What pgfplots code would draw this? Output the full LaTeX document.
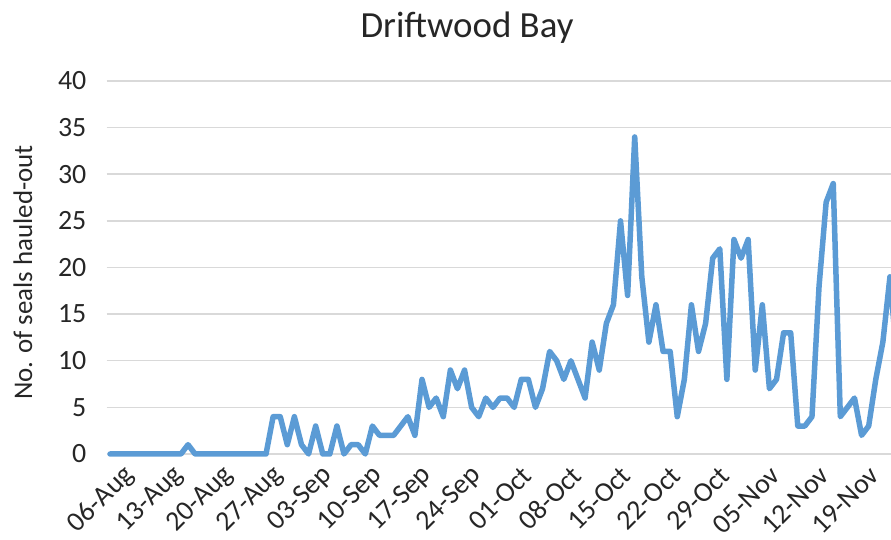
\documentclass[border=0pt]{standalone}
\usepackage{pgfplots}
\pgfplotsset{compat=1.18}
\usepackage{fontspec}
\setmainfont{Carlito}
\definecolor{seal}{RGB}{91,155,213}
\definecolor{gridc}{RGB}{217,217,217}
\begin{document}
\begin{tikzpicture}[x=1bp,y=1bp]
\begin{axis}[
  at={(106.5bp,86bp)}, anchor=south west,
  width=784.5bp, height=373bp, scale only axis,
  xmin=-0.5, xmax=110.15, ymin=0, ymax=40,
  clip=false,
  axis line style={draw=none},
  major tick length=0pt,
  ytick={0,5,...,40},
  yticklabel={\pgfmathprintnumber{\tick}\hspace*{20bp}},
  xtick={0,7,...,105},
  xticklabels={06-Aug,13-Aug,20-Aug,27-Aug,03-Sep,10-Sep,17-Sep,24-Sep,01-Oct,08-Oct,15-Oct,22-Oct,29-Oct,05-Nov,12-Nov,19-Nov},
  ymajorgrids, grid style={draw=gridc, line width=1.5bp},
  /pgf/number format/assume math mode=true,
  tick label style={font=\fontsize{28}{32}\selectfont, text=black!85},
  yticklabel style={anchor=east, inner sep=0pt},
  xticklabel style={rotate=45, anchor=east, inner sep=0pt, xshift=2bp, yshift=-26bp},
]
\addplot[seal, line width=5.5bp, line join=round, line cap=round] coordinates {
(0,0)(1,0)(2,0)(3,0)(4,0)(5,0)(6,0)(7,0)(8,0)(9,0)(10,0)(11,1)(12,0)(13,0)(14,0)(15,0)(16,0)(17,0)(18,0)(19,0)(20,0)(21,0)(22,0)
(23,4)(24,4)(25,1)(26,4)(27,1)(28,0)(29,3)(30,0)(31,0)(32,3)(33,0)(34,1)(35,1)(36,0)(37,3)(38,2)(39,2)(40,2)(41,3)(42,4)(43,2)
(44,8)(45,5)(46,6)(47,4)(48,9)(49,7)(50,9)(51,5)(52,4)(53,6)(54,5)(55,6)(56,6)(57,5)(58,8)(59,8)(60,5)(61,7)(62,11)(63,10)
(64,8)(65,10)(66,8)(67,6)(68,12)(69,9)(70,14)(71,16)(72,25)(73,17)(74,34)(75,19)(76,12)(77,16)(78,11)(79,11)(80,4)(81,8)
(82,16)(83,11)(84,14)(85,21)(86,22)(87,8)(88,23)(89,21)(90,23)(91,9)(92,16)(93,7)(94,8)(95,13)(96,13)(97,3)(98,3)(99,4)
(100,18)(101,27)(102,29)(103,4)(104,5)(105,6)(106,2)(107,3)(108,8)(109,12)(110,19)(111,10)
};
\end{axis}
\node[anchor=base, font=\fontsize{37}{44}\selectfont, text=black!85] at (467,502) {Driftwood Bay};
\node[anchor=base, rotate=90, font=\fontsize{27}{32}\selectfont, text=black!85] at (32,267.5) {No. of seals hauled-out};
\pgfresetboundingbox
\path[use as bounding box] (0,0) rectangle (891,540);
\end{tikzpicture}
\end{document}
